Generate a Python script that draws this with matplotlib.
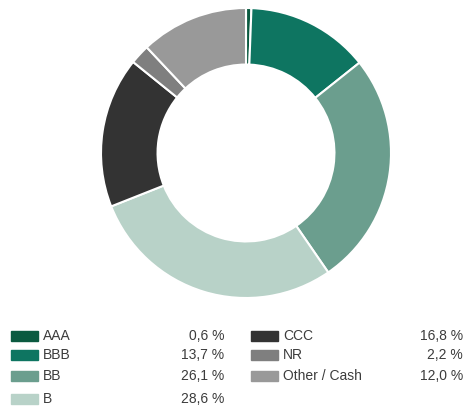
import matplotlib
matplotlib.use("Agg")
import matplotlib.pyplot as plt
from matplotlib.patches import Rectangle

plt.rcParams['font.family'] = ['Liberation Sans', 'DejaVu Sans']

# data
labels = ["AAA", "BBB", "BB", "B", "CCC", "NR", "Other / Cash"]
values = [0.6, 13.7, 26.1, 28.6, 16.8, 2.2, 12.0]
value_text = ["0,6 %", "13,7 %", "26,1 %", "28,6 %", "16,8 %", "2,2 %", "12,0 %"]
colors = ["#0a5a40", "#0e7561", "#6b9e8e", "#b8d2c8", "#333333", "#7f7f7f", "#999999"]

W, H = 465, 408
fig = plt.figure(figsize=(W / 100, H / 100), dpi=100)

# donut
cx, cy, r = 246, 153, 145
ax = fig.add_axes([(cx - r) / W, (H - cy - r) / H, 2 * r / W, 2 * r / H])
ax.pie(values, colors=colors, startangle=90, counterclock=False,
       radius=1.0, wedgeprops=dict(width=0.39, edgecolor="white", linewidth=1.5))
ax.set_xlim(-1, 1)
ax.set_ylim(-1, 1)
ax.set_aspect("equal")
ax.axis("off")

# legend, two columns
rows_y = [335.5, 355, 376, 399]
cols = [(11, 43, 224), (251, 283, 463)]
txt_col = "#3c3c3c"
for i, (lab, vt, c) in enumerate(zip(labels, value_text, colors)):
    col = 0 if i < 4 else 1
    row = i if i < 4 else i - 4
    px, tx, vx = cols[col]
    y = rows_y[row]
    fig.patches.append(Rectangle((px / W, 1 - (y + 5) / H), 27 / W, 10 / H,
                                 transform=fig.transFigure, color=c))
    fig.text(tx / W, 1 - y / H, lab, ha="left", va="center", fontsize=10, color=txt_col)
    fig.text(vx / W, 1 - y / H, vt, ha="right", va="center", fontsize=10, color=txt_col)

fig.savefig("out.png", dpi=100)
